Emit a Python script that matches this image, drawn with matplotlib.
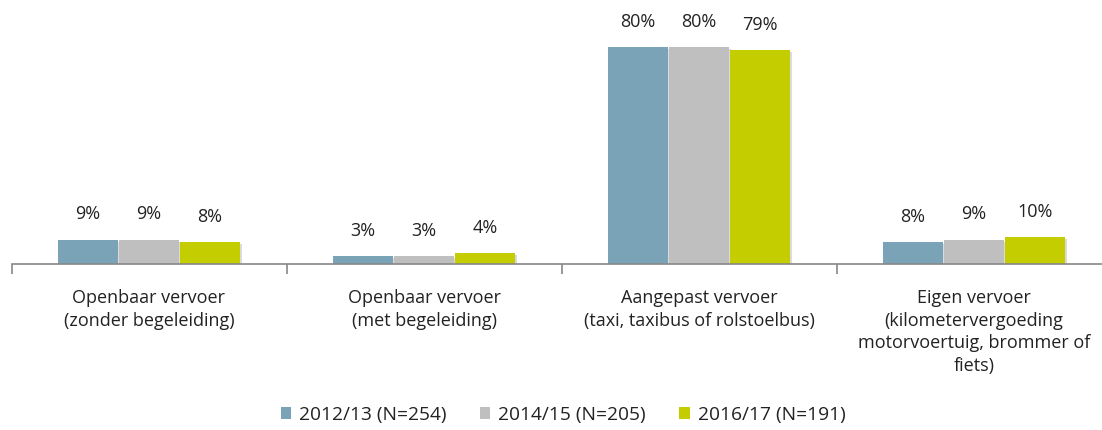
import matplotlib
matplotlib.use("Agg")
import matplotlib.pyplot as plt
import matplotlib.patheffects as pe
from matplotlib.patches import Patch
import numpy as np

plt.rcParams['font.family'] = ['Open Sans', 'DejaVu Sans']

categories = ["Openbaar vervoer\n(zonder begeleiding)",
              "Openbaar vervoer\n(met begeleiding)",
              "Aangepast vervoer\n(taxi, taxibus of rolstoelbus)",
              "Eigen vervoer\n(kilometervergoeding\nmotorvoertuig, brommer of\nfiets)"]
series_names = ["2012/13 (N=254)", "2014/15 (N=205)", "2016/17 (N=191)"]
v2012 = [9, 3, 80, 8]
v2014 = [9, 3, 80, 9]
v2016 = [8, 4, 79, 10]
labels2012 = ["9%", "3%", "80%", "8%"]
labels2014 = ["9%", "3%", "80%", "9%"]
labels2016 = ["8%", "4%", "79%", "10%"]
colors = ["#7aa3b7", "#bfbfbf", "#c3cd00"]

fig = plt.figure(figsize=(11.02, 4.30), dpi=100)
ax = fig.add_axes([11.5/1102, 166/430, 1100/1102, 244/430])

x = np.arange(len(categories))
w = 0.215
offs = [-0.222, 0, 0.222]
all_vals = [v2012, v2014, v2016]
all_labels = [labels2012, labels2014, labels2016]
for i in range(3):
    bars = ax.bar(x + offs[i], all_vals[i], width=w, color=colors[i])
    for b in bars:
        b.set_path_effects([pe.SimplePatchShadow(offset=(1.5, -1.5), shadow_rgbFace='#999999', alpha=0.35), pe.Normal()])
    for b, lab in zip(bars, all_labels[i]):
        ax.text(b.get_x() + b.get_width()/2, b.get_height() + 6.0, lab,
                ha='center', va='bottom', fontsize=13, color='#222222')

ax.set_xlim(-0.5, 3.5)
ax.set_ylim(0, 90)
ax.set_yticks([])
for s in ['top', 'right', 'left']:
    ax.spines[s].set_visible(False)
ax.spines['bottom'].set_color('#888888')
ax.spines['bottom'].set_linewidth(1.2)
ax.set_xticks([-0.5, 0.5, 1.5, 2.5, 3.5])
ax.set_xticklabels([])
ax.set_xticks(x, minor=True)
ax.set_xticklabels(categories, minor=True, fontsize=13, color='#222222', linespacing=1.33)
ax.tick_params(axis='x', which='major', length=7, color='#888888', width=1.2)
ax.tick_params(axis='x', which='minor', length=0, pad=18)

handles = [Patch(facecolor=c, edgecolor='none') for c in colors]
leg = fig.legend(handles, series_names, loc='center', bbox_to_anchor=(563/1102, 1 - 415/430), ncol=3, frameon=False,
                 fontsize=13.8, handlelength=0.55, handleheight=0.55, handletextpad=0.4,
                 columnspacing=1.75)
for t in leg.get_texts():
    t.set_color('#222222')

fig.savefig("out.png", dpi=100)
